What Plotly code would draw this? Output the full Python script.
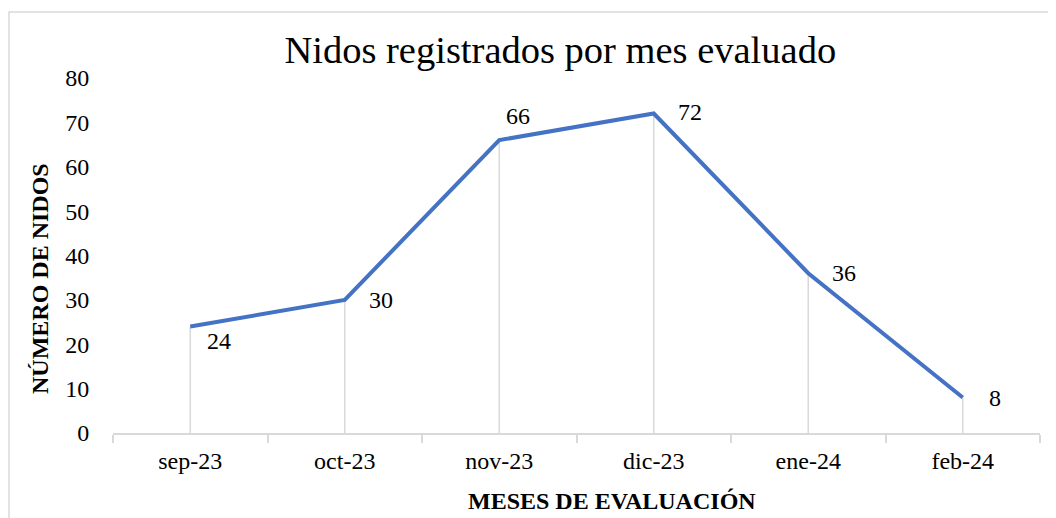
import plotly.graph_objects as go

meses = ["sep-23", "oct-23", "nov-23", "dic-23", "ene-24", "feb-24"]
nidos = [24, 30, 66, 72, 36, 8]
y_ticks = [0, 10, 20, 30, 40, 50, 60, 70, 80]

# label offsets (px) for each data label
lbl_dx = [15, 22, 5, 22, 22, 24]
lbl_dy = [-14, 0, 24, 2, 0, 0]

FONT = "Liberation Serif, Times New Roman, serif"

fig = go.Figure()

# vertical drop lines from each point to the axis
fig.add_trace(go.Scatter(
    x=meses, y=nidos, mode="markers",
    marker=dict(size=1, color="rgba(0,0,0,0)"),
    error_y=dict(type="data", symmetric=False, array=[0] * len(nidos),
                 arrayminus=nidos, color="#d9d9d9", thickness=1.5, width=0),
    hoverinfo="skip", showlegend=False,
))

fig.add_trace(go.Scatter(
    x=meses, y=nidos, mode="lines",
    line=dict(color="#4472C4", width=4),
    showlegend=False,
))

for m, v, dx, dy in zip(meses, nidos, lbl_dx, lbl_dy):
    fig.add_annotation(x=m, y=v, text=str(v), showarrow=False,
                       xanchor="left", yanchor="middle", xshift=dx, yshift=dy,
                       font=dict(family=FONT, size=24, color="black"))

fig.add_annotation(text="MESES DE EVALUACIÓN", xref="paper", yref="paper",
                   x=0.538, y=-0.192, showarrow=False, xanchor="center", yanchor="middle",
                   font=dict(family=FONT, size=24, color="black", weight="bold"))
fig.add_annotation(text="NÚMERO DE NIDOS", xref="paper", yref="paper",
                   x=-0.0787, y=0.434, showarrow=False, textangle=-90,
                   xanchor="center", yanchor="middle",
                   font=dict(family=FONT, size=24, color="black", weight="bold"))

# chart border
fig.add_shape(type="rect", xref="paper", yref="paper",
              x0=-0.1122, y0=-0.4, x1=1.1, y1=1.186,
              line=dict(color="#d9d9d9", width=1.5), layer="below")

# page body has an 8px margin, so the figure is sized/offset to compensate
fig.update_layout(
    width=1048, height=510,
    margin=dict(l=105, r=16, t=70, b=85),
    paper_bgcolor="white", plot_bgcolor="white",
    title=dict(text="Nidos registrados por mes evaluado", x=0.527, xanchor="center",
               y=0.918, yanchor="middle",
               font=dict(family=FONT, size=38.5, color="black")),
    font=dict(family=FONT, color="black"),
)

fig.update_xaxes(
    type="category", range=[-0.5, len(meses) - 0.5],
    showgrid=False, showline=True, linecolor="#d9d9d9", linewidth=1.5,
    ticks="outside", tickson="boundaries", ticklen=8, tickcolor="#d9d9d9", tickwidth=1.5,
    ticklabelstandoff=5,
    tickfont=dict(family=FONT, size=24, color="black"), zeroline=False,
)
fig.update_yaxes(
    range=[0, 80], tickvals=y_ticks, showgrid=False, showline=False, zeroline=False,
    ticks="outside", ticklen=18, tickcolor="rgba(0,0,0,0)",
    tickfont=dict(family=FONT, size=24, color="black"),
)

fig.write_html("out.html")
